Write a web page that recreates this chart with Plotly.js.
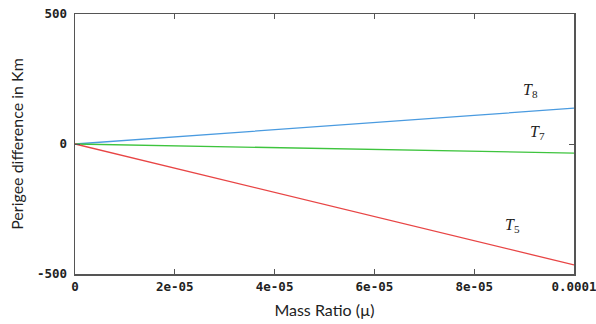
<!DOCTYPE html>
<html><head><meta charset="utf-8">
<script src="https://cdn.plot.ly/plotly-3.0.1.min.js"></script>
<style>html,body{margin:0;padding:0;background:#fff;}</style>
</head><body>
<div id="chart" style="width:596px;height:324px;"></div>
<script>
const massRatio = [0, 2e-5, 4e-5, 6e-5, 8e-5, 1e-4];
const t8 = [0, 27, 55, 83, 110, 138];
const t7 = [0, -7, -14, -21, -28, -35];
const t5 = [0, -93, -186, -279, -372, -465];
const xTickVals = [0, 2e-5, 4e-5, 6e-5, 8e-5, 1e-4];
const xTickText = ['0', '2e-05', '4e-05', '6e-05', '8e-05', '0.0001'];
const yTickVals = [-500, 0, 500];
const yTickText = ['-500', '0', '500'];

const tickFont = {family: 'DejaVu Sans Mono', size: 12.5, color: '#222', weight: 'bold'};
const titleFont = {family: 'Lato', size: 16, color: '#222'};
const traces = [
  {x: massRatio, y: t8, mode: 'lines', line: {color: '#4a9be0', width: 1.3}, name: 'T8'},
  {x: massRatio, y: t7, mode: 'lines', line: {color: '#3ec43e', width: 1.3}, name: 'T7'},
  {x: massRatio, y: t5, mode: 'lines', line: {color: '#e84545', width: 1.3}, name: 'T5'}
];
const layout = {
  width: 596, height: 324,
  margin: {l: 75, r: 22, t: 14, b: 50},
  showlegend: false,
  paper_bgcolor: '#fff', plot_bgcolor: '#fff',
  xaxis: {
    range: [0, 1e-4], tickvals: xTickVals, ticktext: xTickText,
    ticks: 'inside', ticklen: 5, tickcolor: '#555', mirror: 'ticks',
    showline: true, linecolor: '#555', linewidth: 1.5, showgrid: false, zeroline: false,
    tickfont: tickFont, ticklabelstandoff: 0, ticklabeloverflow: 'allow',
    title: {text: 'Mass Ratio (µ)', font: titleFont, standoff: 12}
  },
  yaxis: {
    range: [-500, 500], tickvals: yTickVals, ticktext: yTickText,
    ticks: 'inside', ticklen: 5, tickcolor: '#555', mirror: 'ticks',
    showline: true, linecolor: '#555', linewidth: 1.5, showgrid: false, zeroline: false,
    tickfont: tickFont, ticklabelstandoff: 4, ticklabeloverflow: 'allow',
    title: {text: 'Perigee difference in Km', font: titleFont, standoff: 9}
  },
  annotations: [
    {x: 0.0000913, y: 205, text: '<i>T</i><sub>8</sub>', showarrow: false, font: {family: 'Liberation Serif', size: 16, color: '#222'}},
    {x: 0.0000927, y: 44, text: '<i>T</i><sub>7</sub>', showarrow: false, font: {family: 'Liberation Serif', size: 16, color: '#222'}},
    {x: 0.0000877, y: -315, text: '<i>T</i><sub>5</sub>', showarrow: false, font: {family: 'Liberation Serif', size: 16, color: '#222'}}
  ]
};
Plotly.newPlot('chart', traces, layout, {displayModeBar: false, staticPlot: true});
</script>
</body></html>
